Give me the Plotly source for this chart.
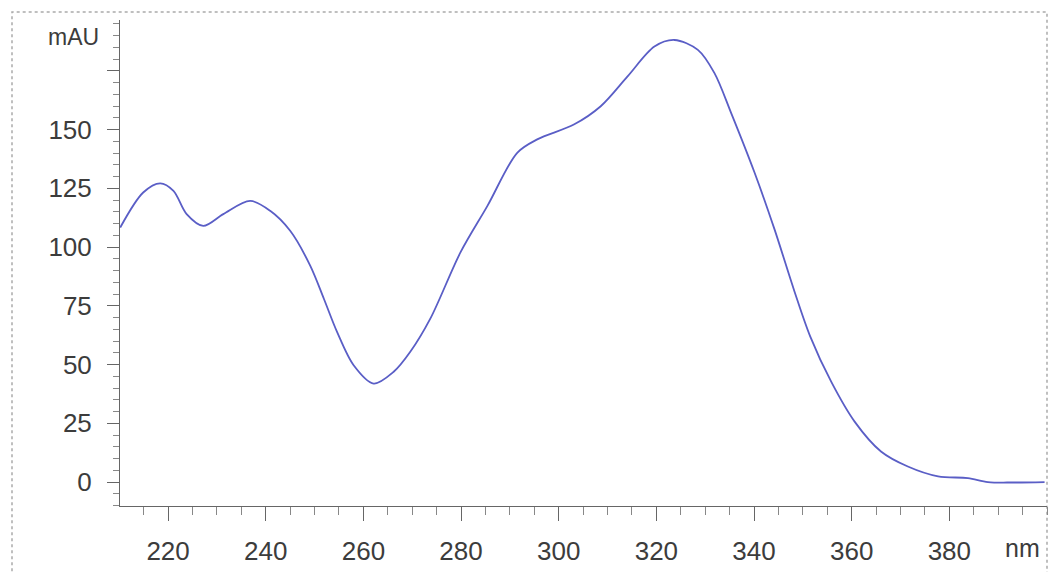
import plotly.graph_objects as go

# Wavelength (nm) and absorbance (mAU)
wavelength = [210.2, 214.9, 218.4, 221.1, 223.8, 227.2, 231.3, 236.8, 240.9, 245.0,
              249.1, 251.9, 254.6, 258.0, 262.1, 266.2, 269.6, 273.7, 279.9, 285.4,
              291.5, 295.6, 303.1, 308.6, 314.1, 319.6, 323.7, 328.5, 331.9, 335.3,
              340.1, 344.2, 348.3, 351.5, 355.8, 360.6, 366.0, 371.5, 377.7, 383.8,
              387.9, 393.0, 399.5]
absorbance = [108.3, 123.2, 127.1, 123.9, 114.0, 109.0, 114.0, 119.6, 115.4, 106.9,
              92.1, 78.0, 63.9, 49.7, 41.9, 46.9, 55.4, 69.5, 97.8, 117.5,
              140.1, 145.8, 152.1, 159.9, 172.6, 185.3, 188.1, 183.9, 174.0, 157.1,
              131.7, 107.5, 81.0, 62.0, 42.7, 25.7, 13.0, 6.6, 2.4, 1.7,
              0.0, -0.2, 0.0]

y_tickvals = [0, 25, 50, 75, 100, 125, 150, 175]
y_ticktext = ["0", "25", "50", "75", "100", "125", "150", ""]
x_tickvals = [220, 240, 260, 280, 300, 320, 340, 360, 380]
x_ticktext = ["220", "240", "260", "280", "300", "320", "340", "360", "380"]

W, H = 1053, 572
L, R, T, B = 120, 6, 20, 64
pw, ph = W - L - R, H - T - B

def px_x(p):
    return (p - L) / pw

def px_y(p):
    return (H - B - p) / ph

fig = go.Figure()
fig.add_trace(go.Scatter(x=wavelength, y=absorbance, mode="lines",
                         line=dict(color="#5a5ec6", width=1.8, shape="spline", smoothing=0.9),
                         hoverinfo="skip", showlegend=False))

font_fam = "Liberation Sans, Arial, sans-serif"
axis_col = "#666666"
txt_col = "#3c3c3c"

fig.update_layout(
    width=W, height=H,
    margin=dict(l=L, r=R, t=T, b=B),
    paper_bgcolor="white", plot_bgcolor="white",
    xaxis=dict(range=[210.15, 400], tickmode="array", tickvals=x_tickvals, ticktext=x_ticktext,
               showgrid=False, zeroline=False, showline=True, linecolor=axis_col, linewidth=1,
               ticks="outside", ticklen=14, tickcolor=axis_col, tickwidth=1,
               ticklabelstandoff=8,
               minor=dict(dtick=5, tick0=210, ticks="outside", ticklen=8, tickcolor="#888888", showgrid=False),
               tickfont=dict(family=font_fam, size=26, color=txt_col)),
    yaxis=dict(range=[-10.2, 196.6], tickmode="array", tickvals=y_tickvals, ticktext=y_ticktext,
               showgrid=False, zeroline=False, showline=True, linecolor=axis_col, linewidth=1,
               ticks="outside", ticklen=12, tickcolor=axis_col, tickwidth=1,
               ticklabelstandoff=10,
               minor=dict(dtick=5, tick0=0, ticks="outside", ticklen=6, tickcolor="#888888", showgrid=False),
               tickfont=dict(family=font_fam, size=26, color=txt_col)),
    annotations=[
        dict(text="mAU", x=px_x(73), y=px_y(37), xref="paper", yref="paper",
             showarrow=False, xanchor="center", yanchor="middle",
             font=dict(family=font_fam, size=23, color=txt_col)),
        dict(text="nm", x=px_x(1022), y=px_y(550), xref="paper", yref="paper",
             showarrow=False, xanchor="center", yanchor="middle",
             font=dict(family=font_fam, size=25, color=txt_col)),
    ],
    shapes=[
        dict(type="rect", xref="paper", yref="paper",
             x0=px_x(12), x1=px_x(1047), y0=px_y(580), y1=px_y(12),
             line=dict(color="#aaaaaa", width=1.5, dash="dot"), layer="below"),
    ],
)

fig.write_html("out.html")
